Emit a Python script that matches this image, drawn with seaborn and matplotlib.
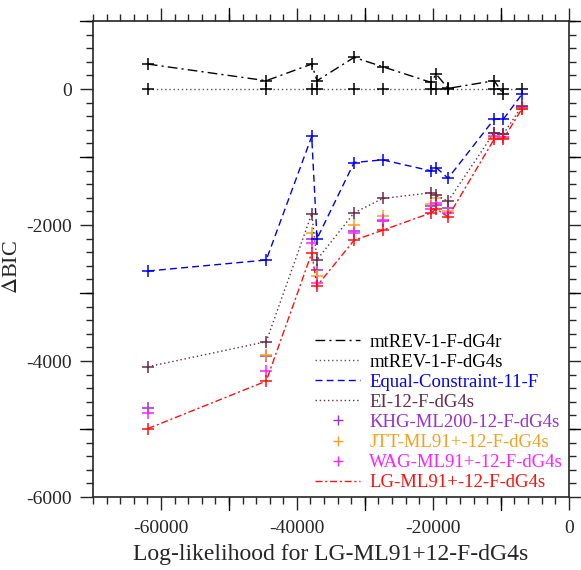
import numpy as np
import pandas as pd
import matplotlib
matplotlib.use('Agg')
import matplotlib.pyplot as plt
from matplotlib.lines import Line2D
from matplotlib.ticker import MultipleLocator
import seaborn as sns

# valores
loglik = [-61930, -44510, -37820, -37040, -31580, -27380, -20250, -19520, -17760, -10980, -9620, -6880]
mtrev_r = [368, 123, 368, 123, 466, 329, 98, 221, 10, 123, -74, np.nan]
mtrev_s = [0, 0, 0, 0, 0, 0, 0, 0, 0, 0, 0, 0]
equal_c = [-2676, -2514, -697, -2200, -1080, -1041, -1203, -1154, -1311, -442, -442, -74]
ei = [-4084, -3715, -1835, -2509, -1820, -1609, -1525, -1565, -1648, -640, -660, -250]
khg = [-4684, -3930, -2204, -2657, -2091, -1943, -1722, -1700, -1746, -650, -660, -260]
jtt = [np.nan, -3911, -2116, -2755, -2002, -1870, -1687, -1609, -1800, -700, -720, -300]
wag = [-4763, -4148, -2263, -2854, -2116, -1919, -1761, -1673, -1820, -690, -700, -270]
lg = [-4994, -4295, -2411, -2893, -2224, -2076, -1820, -1761, -1879, -736, -730, -290]

labels = ['mtREV-1-F-dG4r', 'mtREV-1-F-dG4s', 'Equal-Constraint-11-F', 'EI-12-F-dG4s',
          'KHG-ML200-12-F-dG4s', 'JTT-ML91+-12-F-dG4s', 'WAG-ML91+-12-F-dG4s', 'LG-ML91+-12-F-dG4s']

df = pd.DataFrame({'loglik': loglik, 'r': mtrev_r, 's': mtrev_s, 'eq': equal_c, 'ei': ei,
                   'khg': khg, 'jtt': jtt, 'wag': wag, 'lg': lg})

sns.set_style('ticks')
plt.rcParams['font.family'] = ['Liberation Serif', 'DejaVu Serif']
plt.rcParams['mathtext.fontset'] = 'stix'
plt.rcParams['axes.unicode_minus'] = False

fig = plt.figure(figsize=(5.81, 5.70), dpi=100)
ax = fig.add_axes([0.160, 0.128, 0.819, 0.835])

colores = ['black', '#555555', '#0000ee', '#6a2848', '#9a2fd0', '#f5a020', '#ff20ff', '#ff1010']
estilos = [(0, (7, 3, 1.5, 3)), (0, (1, 2)), (0, (5, 3)), (0, (1, 2)), None, None, None, (0, (5, 2, 1.5, 2))]
columnas = ['r', 's', 'eq', 'ei', 'khg', 'jtt', 'wag', 'lg']
marcas = ['black', 'black', '#0000ee', '#6a2848', None, None, None, '#ff1010']

handles = []
for col, lab, c, ls, mc in zip(columnas, labels, colores, estilos, marcas):
    if ls is None:
        sns.scatterplot(data=df, x='loglik', y=col, ax=ax, marker='+', s=70, color=c,
                        linewidth=1.1, legend=False)
        handles.append(Line2D([], [], color=c, marker='+', linestyle='none', markersize=7))
    else:
        sns.lineplot(data=df, x='loglik', y=col, ax=ax, color=c, linestyle=ls, linewidth=1.0,
                     marker='+', markersize=9, markeredgewidth=1.1, markeredgecolor=mc,
                     estimator=None, legend=False)
        handles.append(Line2D([], [], color=c, linestyle=ls, linewidth=1.0))

ax.set_xlim(-70000, 0)
ax.set_ylim(-6000, 1000)
ax.xaxis.set_major_locator(MultipleLocator(20000))
ax.xaxis.set_minor_locator(MultipleLocator(2000))
ax.yaxis.set_major_locator(MultipleLocator(2000))
ax.yaxis.set_minor_locator(MultipleLocator(200))

ax.tick_params(which='major', direction='out', length=9.5, width=1, labelsize=14, pad=5.5,
               top=True, right=True, labeltop=False, labelright=False)
ax.tick_params(axis='x', which='major', pad=7)
ax.tick_params(which='minor', direction='out', length=4.7, width=1, top=True, right=True)
for s in ax.spines.values():
    s.set_linewidth(1.2)

# marcas intermedias largas (sin etiqueta)
for xv in [-50000, -30000, -10000]:
    for yy, d in [(0, -1), (1, 1)]:
        ax.plot([xv, xv], [yy, yy + d * 0.0275], transform=ax.get_xaxis_transform(),
                color='black', lw=1, clip_on=False)
for yv in [-5000, -3000, -1000, 1000]:
    for xx, d in [(0, -1), (1, 1)]:
        ax.plot([xx, xx + d * 0.0275], [yv, yv], transform=ax.get_yaxis_transform(),
                color='black', lw=1, clip_on=False)

ax.set_xlabel('Log-likelihood for LG-ML91+12-F-dG4s', fontsize=17, labelpad=5)
ax.set_ylabel(r'$\Delta$BIC', fontsize=16)
ax.yaxis.set_label_coords(-0.149, 0.483)

ax.legend(handles, labels, loc='lower right', frameon=False, fontsize=13.5,
          labelcolor=['black', 'black'] + colores[2:], handlelength=2.4,
          handletextpad=0.5, labelspacing=0.16, borderaxespad=0.2, borderpad=0.1)

fig.savefig('out.png', dpi=100)
